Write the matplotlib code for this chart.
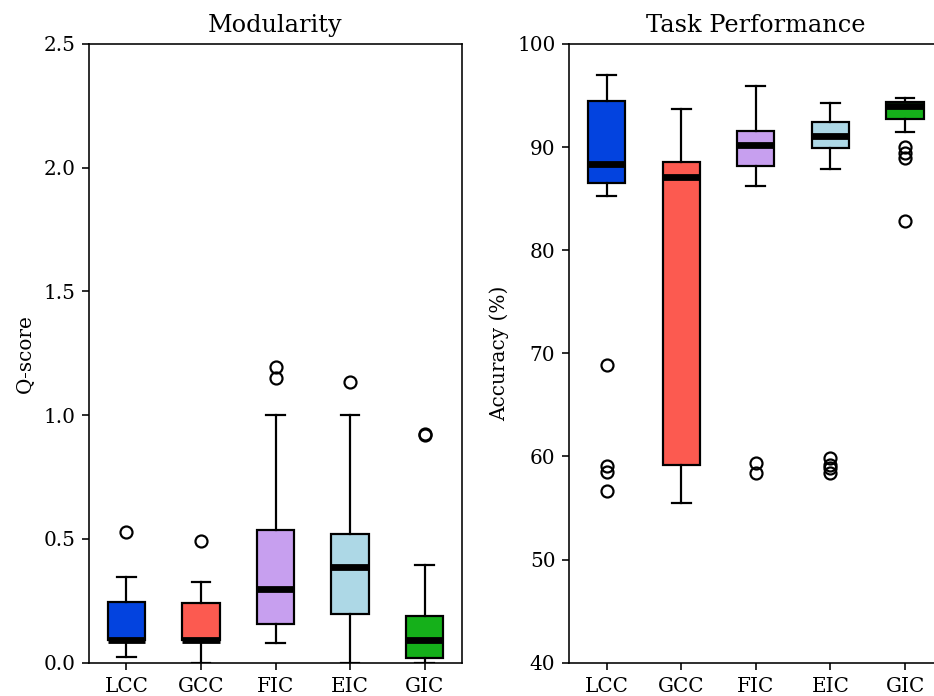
import matplotlib
matplotlib.use("Agg")
import matplotlib.pyplot as plt

plt.rcParams['font.family'] = 'DejaVu Serif'

methods = ["LCC", "GCC", "FIC", "EIC", "GIC"]
box_colors = ["#0343df", "#fc5a50", "#c79fef", "#add8e6", "#15b01a"]

# Modularity (Q-score) box statistics
q_whislo = [0.024, 0.0, 0.079, 0.0, 0.0]
q_q1 = [0.09, 0.09, 0.155, 0.197, 0.018]
q_med = [0.092, 0.092, 0.296, 0.388, 0.092]
q_q3 = [0.245, 0.240, 0.535, 0.519, 0.190]
q_whishi = [0.345, 0.326, 1.0, 1.0, 0.393]
q_fliers = [[0.528], [0.492], [1.196, 1.152], [1.134], [0.924, 0.92]]

# Task performance (accuracy %) box statistics
a_whislo = [85.3, 55.5, 86.2, 87.9, 91.5]
a_q1 = [86.5, 59.2, 88.2, 89.9, 92.75]
a_med = [88.4, 87.1, 90.2, 91.05, 94.0]
a_q3 = [94.5, 88.6, 91.6, 92.4, 94.4]
a_whishi = [97.0, 93.7, 95.9, 94.3, 94.75]
a_fliers = [[68.9, 59.1, 58.5, 56.7], [], [59.4, 58.4],
            [59.9, 59.2, 58.85, 58.4], [90.0, 89.4, 88.9, 82.85]]


def make_stats(whislo, q1, med, q3, whishi, fliers):
    stats = []
    for i in range(len(methods)):
        stats.append({"label": methods[i], "whislo": whislo[i], "q1": q1[i],
                      "med": med[i], "q3": q3[i], "whishi": whishi[i],
                      "fliers": fliers[i]})
    return stats


def draw(ax, stats):
    bp = ax.bxp(stats, patch_artist=True, widths=0.5,
                boxprops=dict(linewidth=1.1),
                whiskerprops=dict(linewidth=1.1),
                capprops=dict(linewidth=1.1),
                medianprops=dict(color="black", linewidth=3.4),
                flierprops=dict(marker="o", markerfacecolor="none",
                                markeredgecolor="black", markersize=6,
                                markeredgewidth=1.1))
    for patch, c in zip(bp["boxes"], box_colors):
        patch.set_facecolor(c)
        patch.set_edgecolor("black")


fig = plt.figure(figsize=(934 / 144, 696 / 144), dpi=144)
ax1 = fig.add_axes([0.0953, 0.0478, 0.3994, 0.889])
ax2 = fig.add_axes([0.6095, 0.0478, 0.3994, 0.889])

draw(ax1, make_stats(q_whislo, q_q1, q_med, q_q3, q_whishi, q_fliers))
ax1.set_ylim(0, 2.5)
ax1.set_yticks([0.0, 0.5, 1.0, 1.5, 2.0, 2.5])
ax1.set_title("Modularity", fontsize=12)
ax1.set_ylabel("Q-score")

draw(ax2, make_stats(a_whislo, a_q1, a_med, a_q3, a_whishi, a_fliers))
ax2.set_ylim(40, 100)
ax2.set_title("Task Performance", fontsize=12)
ax2.set_ylabel("Accuracy (%)")
# the reference is cut off on the right, so this spine is not seen
ax2.spines["right"].set_visible(False)

fig.savefig("out.png", dpi=144)
